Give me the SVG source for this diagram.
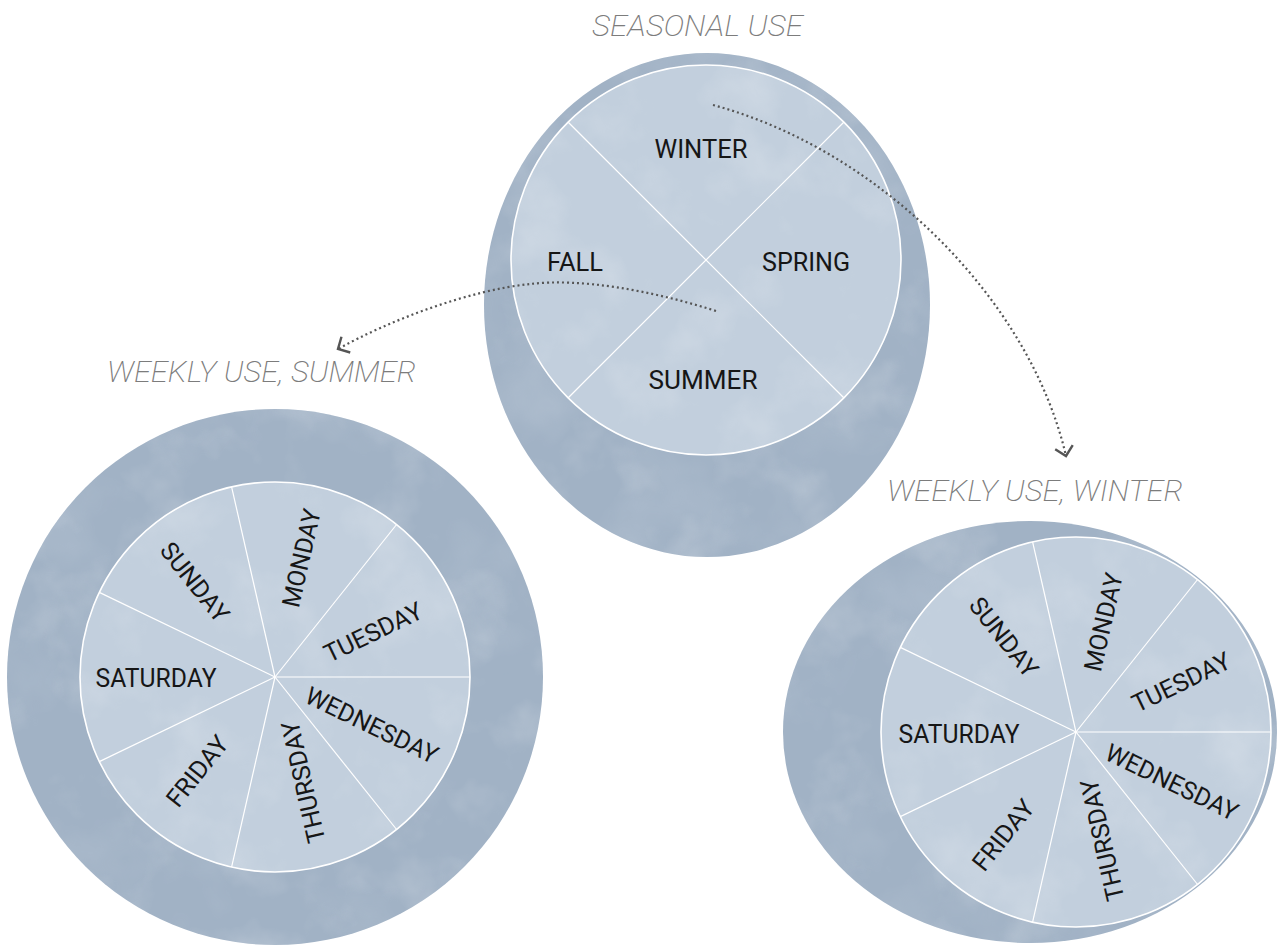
<svg xmlns="http://www.w3.org/2000/svg" xmlns:xlink="http://www.w3.org/1999/xlink" width="1279" height="947" viewBox="0 0 1279 947">
<style>
.outer{fill:#a1b2c5}
.inner{fill:#c2cfdd;stroke:#fff;stroke-width:1.6}
.spoke{stroke:#fff;stroke-width:1.2;fill:none}
.lbl{font-family:Roboto,"Liberation Sans",sans-serif;font-weight:400;font-size:25px;fill:#161616;text-anchor:middle}
.ttl{font-family:Roboto,"Liberation Sans",sans-serif;font-weight:200;font-style:italic;font-size:29px;fill:#7c7c7c}
.con{fill:none;stroke:#555;stroke-width:2.2;stroke-dasharray:2 3}
</style>
<defs>
<filter id="wash" x="-5%" y="-5%" width="110%" height="110%">
<feTurbulence type="fractalNoise" baseFrequency="0.014" numOctaves="4" seed="7" result="n"/>
<feColorMatrix in="n" type="matrix" values="0 0 0 0 1 0 0 0 0 1 0 0 0 0 1 2.2 0 0 0 -1.1" result="a"/>
<feComposite in="a" in2="SourceAlpha" operator="in"/>
</filter>
<filter id="dark" x="-5%" y="-5%" width="110%" height="110%">
<feTurbulence type="fractalNoise" baseFrequency="0.009" numOctaves="4" seed="21" result="n"/>
<feColorMatrix in="n" type="matrix" values="0 0 0 0 0.5 0 0 0 0 0.58 0 0 0 0 0.68 2.6 0 0 0 -1.2" result="a"/>
<feComposite in="a" in2="SourceAlpha" operator="in"/>
</filter>
<g id="spokes7" class="spoke">
<line x1="0" y1="0" x2="195" y2="0"/>
<line x1="0" y1="0" x2="121.6" y2="-152.5"/>
<line x1="0" y1="0" x2="-43.4" y2="-190.1"/>
<line x1="0" y1="0" x2="-175.7" y2="-84.6"/>
<line x1="0" y1="0" x2="-175.7" y2="84.6"/>
<line x1="0" y1="0" x2="-43.4" y2="190.1"/>
<line x1="0" y1="0" x2="121.6" y2="152.5"/>
</g>
<marker id="chev" viewBox="-15 -15 30 30" refX="0" refY="0" markerWidth="30" markerHeight="30" markerUnits="userSpaceOnUse" orient="auto">
<path d="M-9,-9 L0,0 L-9,9" fill="none" stroke="#555" stroke-width="2.4"/>
</marker>
</defs>
<rect width="1279" height="947" fill="#fff"/>

<g id="node-seasonal">
<text class="ttl" x="592" y="36" textLength="211" lengthAdjust="spacingAndGlyphs">SEASONAL USE</text>
<ellipse class="outer" cx="707" cy="305" rx="223" ry="252"/>
<ellipse cx="707" cy="305" rx="223" ry="252" fill="#000" filter="url(#dark)" opacity="0.4"/>
<ellipse cx="707" cy="305" rx="223" ry="252" fill="#000" filter="url(#wash)" opacity="0.22"/>
<circle class="inner" cx="706" cy="260" r="195"/>
<circle cx="706" cy="260" r="194" fill="#000" filter="url(#wash)" opacity="0.2"/>
<line class="spoke" x1="568" y1="122" x2="844" y2="398"/>
<line class="spoke" x1="844" y1="122" x2="568" y2="398"/>
<text class="lbl" x="701" y="158" textLength="93" lengthAdjust="spacingAndGlyphs">WINTER</text>
<text class="lbl" x="575" y="271" textLength="56" lengthAdjust="spacingAndGlyphs">FALL</text>
<text class="lbl" x="806" y="271" textLength="88" lengthAdjust="spacingAndGlyphs">SPRING</text>
<text class="lbl" x="703" y="389" textLength="109" lengthAdjust="spacingAndGlyphs">SUMMER</text>
</g>

<g id="node-summer">
<text class="ttl" x="107" y="382" textLength="309" lengthAdjust="spacingAndGlyphs">WEEKLY USE, SUMMER</text>
<circle class="outer" cx="275" cy="677" r="268"/>
<circle cx="275" cy="677" r="268" fill="#000" filter="url(#dark)" opacity="0.4"/>
<circle cx="275" cy="677" r="268" fill="#000" filter="url(#wash)" opacity="0.22"/>
<circle class="inner" cx="275" cy="677" r="195"/>
<circle cx="275" cy="677" r="194" fill="#000" filter="url(#wash)" opacity="0.2"/>
<use xlink:href="#spokes7" x="275" y="677"/>
<text class="lbl" transform="translate(195,582) rotate(51.43)" y="9" textLength="94" lengthAdjust="spacingAndGlyphs">SUNDAY</text>
<text class="lbl" transform="translate(301,558) rotate(-77.14)" y="9" textLength="100" lengthAdjust="spacingAndGlyphs">MONDAY</text>
<text class="lbl" transform="translate(373,632) rotate(-25.71)" y="9" textLength="106" lengthAdjust="spacingAndGlyphs">TUESDAY</text>
<text class="lbl" transform="translate(372,725) rotate(25.71)" y="9" textLength="144" lengthAdjust="spacingAndGlyphs">WEDNESDAY</text>
<text class="lbl" transform="translate(303,782) rotate(-102.86)" y="9" textLength="124" lengthAdjust="spacingAndGlyphs">THURSDAY</text>
<text class="lbl" transform="translate(197,771) rotate(-51.43)" y="9" textLength="83" lengthAdjust="spacingAndGlyphs">FRIDAY</text>
<text class="lbl" transform="translate(156,678)" y="9" textLength="121" lengthAdjust="spacingAndGlyphs">SATURDAY</text>
</g>

<g id="node-winter">
<text class="ttl" x="887" y="501" textLength="296" lengthAdjust="spacingAndGlyphs">WEEKLY USE, WINTER</text>
<ellipse class="outer" cx="1030" cy="732" rx="247" ry="211"/>
<ellipse cx="1030" cy="732" rx="247" ry="211" fill="#000" filter="url(#dark)" opacity="0.4"/>
<ellipse cx="1030" cy="732" rx="247" ry="211" fill="#000" filter="url(#wash)" opacity="0.22"/>
<circle class="inner" cx="1076" cy="732" r="195"/>
<circle cx="1076" cy="732" r="194" fill="#000" filter="url(#wash)" opacity="0.2"/>
<use xlink:href="#spokes7" x="1076" y="732"/>
<text class="lbl" transform="translate(1004,637) rotate(51.43)" y="9" textLength="94" lengthAdjust="spacingAndGlyphs">SUNDAY</text>
<text class="lbl" transform="translate(1103,622) rotate(-77.14)" y="9" textLength="100" lengthAdjust="spacingAndGlyphs">MONDAY</text>
<text class="lbl" transform="translate(1181,682) rotate(-25.71)" y="9" textLength="106" lengthAdjust="spacingAndGlyphs">TUESDAY</text>
<text class="lbl" transform="translate(1172,782) rotate(25.71)" y="9" textLength="144" lengthAdjust="spacingAndGlyphs">WEDNESDAY</text>
<text class="lbl" transform="translate(1102,840) rotate(-102.86)" y="9" textLength="124" lengthAdjust="spacingAndGlyphs">THURSDAY</text>
<text class="lbl" transform="translate(1003,835) rotate(-51.43)" y="9" textLength="83" lengthAdjust="spacingAndGlyphs">FRIDAY</text>
<text class="lbl" transform="translate(959,734)" y="9" textLength="121" lengthAdjust="spacingAndGlyphs">SATURDAY</text>
</g>

<g id="connectors">
<path class="con" d="M716,311 C650,290 580,278 530,284 C470,290 390,320 338,349" marker-end="url(#chev)"/>
<path class="con" d="M713,105 C880,150 1030,300 1066,456" marker-end="url(#chev)"/>
</g>
</svg>
